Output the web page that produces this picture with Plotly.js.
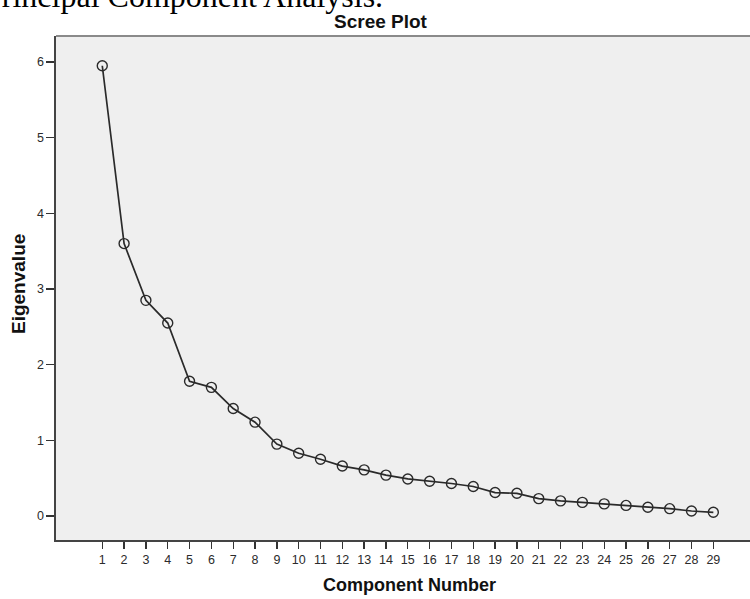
<!DOCTYPE html>
<html>
<head>
<meta charset="utf-8">
<script src="https://cdn.plot.ly/plotly-3.0.1.min.js"></script>
<style>
  html, body { margin: 0; padding: 0; background: #ffffff; }
  #chart { width: 750px; height: 599px; }
</style>
</head>
<body>
<div id="chart"></div>
<script>
// Data
const componentNumbers = [1, 2, 3, 4, 5, 6, 7, 8, 9, 10, 11, 12, 13, 14, 15, 16, 17, 18, 19, 20, 21, 22, 23, 24, 25, 26, 27, 28, 29];
const eigenvalues = [5.95, 3.60, 2.85, 2.55, 1.78, 1.70, 1.42, 1.24, 0.95, 0.83, 0.75, 0.66, 0.61, 0.54, 0.49, 0.46, 0.43, 0.39, 0.31, 0.30, 0.23, 0.20, 0.18, 0.16, 0.14, 0.115, 0.097, 0.066, 0.049];
const yTickValues = [0, 1, 2, 3, 4, 5, 6];

const chartTitle = "Scree Plot";
const xTitle = "Component Number";
const yTitle = "Eigenvalue";
const captionText = "Principal Component Analysis.";

const trace = {
  x: componentNumbers,
  y: eigenvalues,
  type: "scatter",
  mode: "lines+markers",
  line: { color: "#2a2a2a", width: 1.7 },
  marker: {
    symbol: "circle-open",
    size: 10,
    color: "#2a2a2a",
    line: { color: "#2a2a2a", width: 1.4 }
  },
  hoverinfo: "x+y",
  showlegend: false
};

const sansFamily = "Arial, 'Liberation Sans', sans-serif";
const tickFont = { family: sansFamily, size: 12.5, color: "#2b2b2b" };

const layout = {
  width: 750,
  height: 599,
  margin: { l: 56, r: 0, t: 36, b: 59 },
  paper_bgcolor: "#ffffff",
  plot_bgcolor: "#efefef",
  showlegend: false,
  xaxis: {
    range: [-1.12, 30.68],
    tickmode: "array",
    tickvals: componentNumbers,
    ticktext: componentNumbers.map(String),
    ticks: "outside",
    ticklen: 7,
    tickwidth: 1.3,
    tickcolor: "#333333",
    tickfont: tickFont,
    showgrid: false,
    zeroline: false,
    showline: true,
    linecolor: "#444444",
    linewidth: 1.6
  },
  yaxis: {
    range: [-0.317, 6.343],
    tickmode: "array",
    tickvals: yTickValues,
    ticktext: yTickValues.map(String),
    ticks: "outside",
    ticklen: 8,
    tickwidth: 1.3,
    tickcolor: "#333333",
    tickfont: tickFont,
    showgrid: false,
    zeroline: false,
    showline: true,
    linecolor: "#444444",
    linewidth: 1.6
  },
  shapes: [
    {
      type: "line", xref: "paper", yref: "paper",
      x0: 0, x1: 1, y0: 1, y1: 1,
      line: { color: "#8a8a8a", width: 2 }
    }
  ],
  annotations: [
    {
      text: "<b>" + chartTitle + "</b>",
      xref: "paper", yref: "paper",
      x: (380.5 - 56) / 694, y: 1, xanchor: "center", yanchor: "middle",
      yshift: 15,
      showarrow: false,
      font: { family: sansFamily, size: 19, color: "#111111" }
    },
    {
      text: "<b>" + xTitle + "</b>",
      xref: "paper", yref: "paper",
      x: (409 - 56) / 694, y: 0, xanchor: "center", yanchor: "middle",
      yshift: -45,
      showarrow: false,
      font: { family: sansFamily, size: 18, color: "#111111" }
    },
    {
      text: "<b>" + yTitle + "</b>",
      xref: "paper", yref: "paper",
      x: 0, y: (540 - 284) / 504, xanchor: "center", yanchor: "middle",
      xshift: -38,
      textangle: -90,
      showarrow: false,
      font: { family: sansFamily, size: 19, color: "#111111" }
    },
    {
      text: captionText,
      xref: "paper", yref: "paper",
      x: 0, y: 1, xanchor: "left", yanchor: "bottom",
      xshift: -74, yshift: 20,
      showarrow: false,
      font: { family: "'Liberation Serif', 'Times New Roman', serif", size: 32, color: "#000000" }
    }
  ]
};

Plotly.newPlot("chart", [trace], layout, { displayModeBar: false, staticPlot: true });
</script>
</body>
</html>
